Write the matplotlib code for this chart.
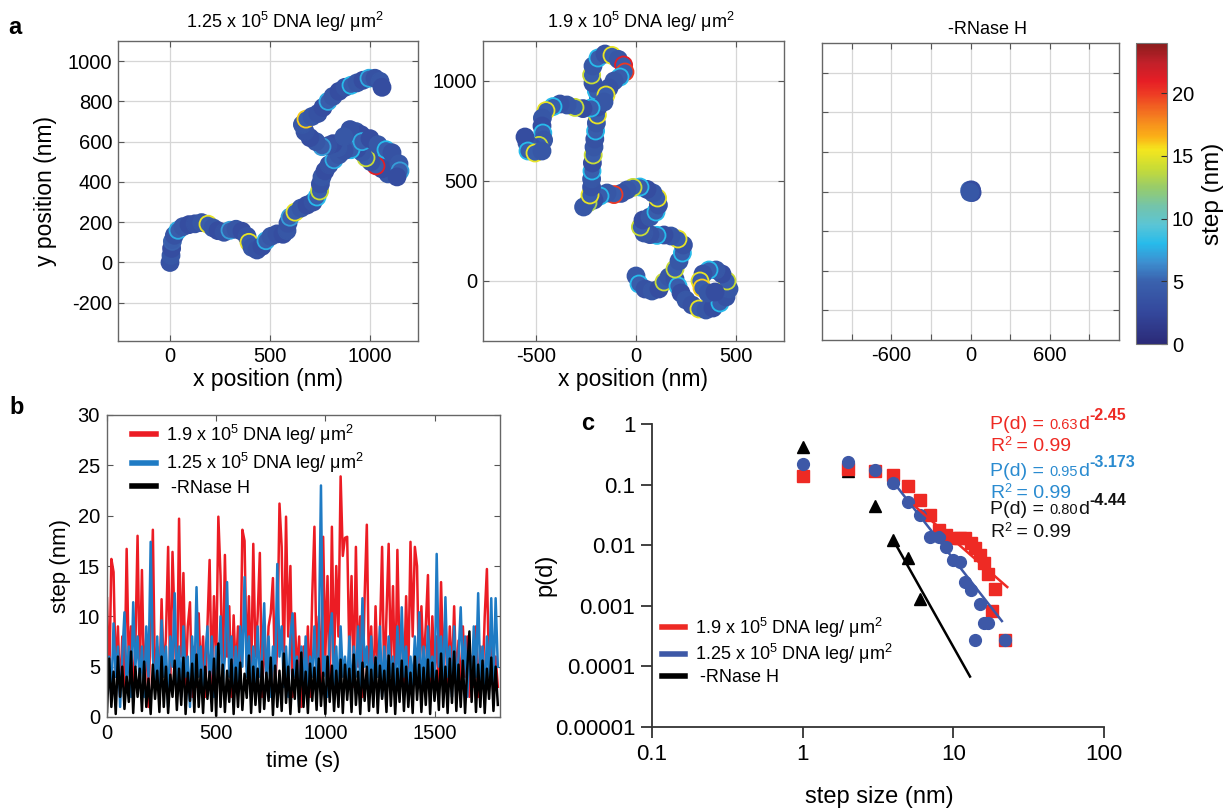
import numpy as np
import matplotlib
matplotlib.use("Agg")
import matplotlib.pyplot as plt
from matplotlib.colors import LinearSegmentedColormap, Normalize
from matplotlib.cm import ScalarMappable
from matplotlib.lines import Line2D
from matplotlib.ticker import NullLocator

plt.rcParams["font.family"] = ["Liberation Sans", "DejaVu Sans"]
plt.rcParams["mathtext.fontset"] = "custom"
plt.rcParams["mathtext.rm"] = "Liberation Sans"
plt.rcParams["mathtext.it"] = "Liberation Sans:italic"
plt.rcParams["mathtext.bf"] = "Liberation Sans:bold"
plt.rcParams["axes.unicode_minus"] = False

# ---- panel a: tracks (nm), colour = step size (nm) ----
a1_x = [0, 5, 8, 12, 22, 40, 65, 95, 125, 158,
        190, 215, 240, 270, 300, 330, 360, 385, 395, 410,
        435, 460, 480, 505, 535, 565, 585, 590, 600, 625,
        655, 685, 715, 735, 748, 752, 760, 775, 795, 820,
        845, 865, 885, 905, 930, 955, 970, 990, 1010, 1030,
        1055, 1085, 1110, 1125, 1120, 1090, 1060, 1030, 1005, 980,
        960, 935, 905, 870, 840, 815, 790, 760, 730, 700,
        675, 662, 680, 710, 740, 765, 790, 815, 845, 875,
        905, 935, 965, 995, 1025, 1050, 1060,
        900, 870, 960, 1000, 1040, 1080, 1110, 1145, 1150, 1135]
a1_y = [0, 35, 70, 105, 135, 160, 178, 188, 192, 198,
        190, 172, 158, 150, 160, 165, 155, 130, 100, 75,
        62, 80, 108, 130, 142, 140, 158, 195, 225, 250,
        270, 285, 300, 325, 355, 390, 425, 455, 485, 510,
        535, 565, 600, 630, 650, 635, 605, 580, 560, 535,
        520, 525, 505, 475, 440, 440, 465, 480, 500, 520,
        548, 565, 560, 555, 570, 590, 580, 575, 600, 620,
        650, 685, 712, 725, 740, 770, 800, 825, 850, 870,
        880, 892, 905, 915, 915, 900, 870,
        660, 625, 600, 615, 585, 560, 545, 490, 455, 425]
a1_step = [3.5, 4, 3, 5, 3.5, 7.5, 4, 3, 3.5, 4,
           15, 4, 3, 3.5, 7, 4, 3, 3.5, 15, 4,
           3.5, 3, 7.5, 4, 3.5, 3, 4, 3.5, 7, 15,
           4, 3, 3.5, 8, 14, 3.5, 4, 3, 3.5, 7.5,
           4, 3, 3.5, 8, 4, 3, 3.5, 7, 4, 3,
           3.5, 8, 4, 3.5, 7.5, 4, 3, 21, 3.5, 14,
           4, 3, 8, 3.5, 4, 3, 3.5, 7, 4, 3,
           3.5, 4, 16, 4, 3.5, 3, 7.5, 4, 3, 3.5,
           8, 4, 3, 7.5, 3.5, 4, 3,
           3.5, 4, 7.5, 3, 4, 8, 3.5, 4, 7, 3]

a2_x = [0, 15, 45, 80, 115, 140, 165, 195, 210, 225,
        250, 280, 315, 350, 385, 420, 450, 465, 455, 430,
        400, 365, 335, 320, 330, 360, 395, 195, 215, 232,
        237, 210, 175, 140, 105, 70, 40, 22, 35, 70,
        100, 112, 108, 85, 55, 20, -15, -45, -75, -110,
        -145, -180, -210, -240, -262, -230, -222, -222, -220, -218,
        -214, -210, -206, -202, -198, -193, -190, -188, -198, -215,
        -222, -215, -190, -155, -120, -88, -62, -55, -80, -110,
        -135, -150, -160, -225, -265, -305, -345, -380, -415, -450,
        -468, -470, -466, -462, -485, -520, -545, -555, -540, -505,
        -470]
a2_y = [25, -15, -40, -50, -40, -5, 20, 10, -25, -60,
        -95, -120, -140, -145, -135, -110, -80, -40, 0, 35,
        55, 55, 35, 0, -35, -60, -55, 60, 100, 140,
        180, 210, 225, 230, 228, 232, 240, 270, 305, 320,
        345, 380, 415, 440, 458, 470, 468, 455, 438, 432,
        440, 425, 405, 390, 370, 430, 470, 510, 550, 590,
        630, 670, 710, 750, 790, 830, 870, 910, 950, 990,
        1030, 1075, 1115, 1135, 1128, 1108, 1080, 1045, 1020, 1000,
        965, 930, 895, 865, 862, 868, 880, 885, 872, 852,
        815, 775, 740, 705, 678, 670, 690, 720, 650, 640,
        650]
a2_step = [4, 8, 3.5, 4, 3, 14, 4, 3.5, 8, 3,
           4, 3.5, 15, 4, 3, 8, 3.5, 4, 14, 3,
           4, 8, 3.5, 15, 16, 4, 3, 14, 4, 8,
           3.5, 15, 4, 3, 8, 3.5, 4, 14, 3, 4,
           8, 3.5, 15, 4, 3, 8, 14, 4, 3.5, 20,
           4, 8, 3, 13, 4, 15, 3.5, 4, 8, 3,
           14, 4, 3.5, 8, 4, 15, 3, 4, 8, 3.5,
           14, 4, 8, 3.5, 15, 4, 21, 20, 8, 4,
           3.5, 15, 4, 8, 3, 14, 4, 3.5, 8, 15,
           4, 3, 8, 4, 14, 3.5, 4, 3, 8, 15,
           4]

a3_x = [0, 12, -6, 8, -4]
a3_y = [0, -8, 10, 12, -6]
a3_step = [4, 3, 5, 3, 4]

title_hi = "1.25 x 10$^{5}$ DNA leg/ μm$^{2}$"
title_lo = "1.9 x 10$^{5}$ DNA leg/ μm$^{2}$"
title_ctrl = "-RNase H"

# colour scale (step, nm)
cmap_nodes = [0, 2.5, 5, 6.5, 8, 9.5, 11, 12.5, 14, 15.5, 16.5, 18, 20, 21, 22.5, 24]
cmap_hex = ["#2b2a78", "#34489c", "#3a62ae", "#3d8fd0", "#27bbeb", "#5bc5d5",
            "#74c4aa", "#98cc6a", "#c8dc36", "#f4e61e", "#fbb217", "#f5821f",
            "#ed3a24", "#e61e25", "#c0202a", "#8a1c1c"]
cbar_ticks = [0, 5, 10, 15, 20]

# ---- panel b: step vs time, sampled every 10 s ----
sample_dt = 10
red_step = [11.8, 3, 15.7, 14.4, 4, 9, 2, 8, 3, 16.7,
            5, 9, 2, 7, 18.0, 4, 14.6, 3, 8, 1,
            10, 18.6, 3, 7, 2, 11.7, 4, 8, 16.9, 3,
            16.4, 9, 2, 19.7, 6, 14.3, 3, 9, 11.4, 2,
            7, 3, 10.3, 4, 8, 2, 9, 15.6, 3, 12,
            5, 19.9, 14, 3, 16.1, 6, 11, 2, 10.1, 4,
            9, 3, 18.6, 17.5, 5, 12, 3, 17.2, 6, 10,
            16.3, 2, 8, 4, 9, 10.3, 13.8, 3, 7, 21.2,
            16.9, 5, 19.9, 8, 15, 2, 10.3, 4, 8, 1,
            7, 3, 9, 2, 12, 18.9, 5, 10, 3, 17.9,
            6, 14, 2, 18.9, 5, 15, 8, 23.9, 16, 17.8,
            17.9, 6, 14, 3, 16.9, 5, 10, 2, 12, 19.1,
            4, 9, 2, 11, 4, 8, 16.9, 3, 10, 17.2,
            5, 13, 2, 16.6, 6, 9, 3, 12, 4, 17.4,
            8, 16.9, 15, 3, 11, 5, 9, 14.1, 2, 10,
            4, 8, 3, 13.4, 5, 10, 2, 9, 4, 11,
            3, 7.6, 2, 9, 4, 8, 2, 6, 3, 9,
            2, 7, 3, 10, 14.7, 4, 8, 2, 6, 3]
blue_step = [3, 6, 2, 9.3, 4, 7, 1, 6, 10.4, 3,
             7, 2, 11.4, 5, 8, 3, 7, 2, 9, 4,
             17.4, 6, 3, 8, 2, 9.6, 4, 7, 1, 8,
             5, 12.3, 3, 7, 2, 9, 4, 6, 1, 8,
             3, 12.9, 4, 7, 2, 6, 9, 3, 8, 2,
             7, 4, 10, 3, 6, 13.4, 4, 8, 2, 7,
             3, 9, 5, 13.9, 4, 8, 2, 7, 3, 9,
             4, 6, 11.3, 3, 8, 2, 7, 4, 15.2, 6,
             9, 3, 7, 2, 8, 10.3, 4, 6, 1, 7,
             3, 8, 2, 6, 4, 9, 3, 7, 23.0, 4,
             6, 2, 8, 10.3, 3, 7, 2, 9, 4, 6,
             3, 8, 2, 7, 4, 9, 3, 11.8, 5, 7,
             2, 8, 3, 6, 4, 9, 2, 7, 3, 8,
             4, 6, 2, 9, 3, 10.9, 4, 7, 2, 6,
             3, 8, 4, 10.4, 2, 7, 3, 9, 4, 6,
             2, 16.2, 5, 8, 3, 11.9, 4, 7, 2, 9,
             3, 6, 10.9, 4, 8, 2, 7, 3, 9, 4,
             12.3, 3, 7, 2, 8, 4, 11.8, 3, 11.8, 5]
black_step = [0.5, 5.8, 1, 4.5, 0.3, 6, 2, 5, 0.8, 4,
              1.5, 6.5, 0.4, 5, 2, 4.8, 0.6, 5.5, 1, 3.8,
              0.3, 5.2, 1.8, 4.6, 0.5, 6, 1, 5, 0.4, 4.2,
              2, 5.6, 0.7, 4.8, 1.2, 5.9, 0.3, 4.4, 1.6, 5.3,
              0.5, 6.2, 1, 4.7, 0.4, 5, 1.8, 4.5, 0.6, 5.8,
              0.1, 7.3, 1, 5.2, 0.5, 4.6, 1.5, 5.7, 0.3, 4.9,
              1, 5.4, 0.7, 4.3, 1.9, 6.1, 0.4, 5, 1.2, 4.8,
              0.5, 5.5, 0.8, 4.4, 1.6, 5.9, 0.2, 5.1, 1, 4.6,
              0.6, 6.3, 1.4, 5, 0.3, 4.7, 1.8, 5.6, 0.5, 6.4,
              1, 4.5, 0.4, 5.3, 1.6, 4.9, 0.7, 5.8, 1.1, 4.4,
              0.3, 6, 1.5, 5.1, 0.6, 4.6, 1, 5.7, 0.4, 5.2,
              1.7, 4.8, 0.5, 6.2, 1.2, 4.5, 0.3, 5.4, 1.6, 5,
              0.6, 4.7, 1, 5.9, 0.4, 5.1, 1.8, 4.6, 0.5, 6.1,
              1.1, 5.3, 0.3, 4.8, 1.5, 5.6, 0.6, 5, 1, 4.4,
              0.4, 6, 1.7, 5.2, 0.5, 4.9, 1.2, 5.7, 0.3, 5.4,
              1.6, 4.6, 0.7, 6.3, 1, 5, 0.4, 5.8, 1.4, 6.5,
              0.6, 5.2, 1, 5.6, 0.4, 4.8, 8.5, 1.5, 6, 0.5,
              5.2, 1, 5.6, 0.4, 4.8, 1.8, 5.9, 0.6, 5, 1.2]
legend_labels = [title_lo, title_hi, " -RNase H"]

# ---- panel c: step size distributions ----
red_d = [1, 2, 3, 4, 5, 6, 7, 8, 9, 10, 11, 12, 13, 14, 15, 16, 17, 18, 19, 22]
red_p = [0.14, 0.18, 0.17, 0.144, 0.094, 0.055, 0.032, 0.018, 0.015, 0.013,
         0.013, 0.013, 0.011, 0.009, 0.007, 0.005, 0.0033, 0.00082, 0.0019, 0.00027]
blue_d = [1, 2, 3, 4, 5, 6, 7, 8, 9, 10, 11, 12, 13, 14, 15, 16, 17, 22]
blue_p = [0.22, 0.24, 0.175, 0.105, 0.052, 0.031, 0.0137, 0.0137, 0.0094, 0.0056,
          0.0053, 0.0025, 0.0018, 0.00027, 0.00106, 0.00052, 0.00052, 0.00027]
black_d = [1, 2, 3, 4, 5, 6]
black_p = [0.42, 0.17, 0.044, 0.012, 0.0062, 0.0013]
red_fit_d, red_fit_p = [5.5, 22.8], [0.045, 0.00204]
blue_fit_d, blue_fit_p = [4.0, 21.0], [0.11, 0.00056]
black_fit_d, black_fit_p = [4.06, 12.9], [0.0113, 0.000068]
fit_prefactor = ["0.63", "0.95", "0.80"]
fit_exponent = ["-2.45", "-3.173", "-4.44"]
fit_r2 = ["0.99", "0.99", "0.99"]
fit_colors = ["#ee2a24", "#2a8bd0", "#111111"]
c_xticks = [0.1, 1, 10, 100]
c_xticklabels = ["0.1", "1", "10", "100"]
c_yticks = [1e-5, 1e-4, 1e-3, 1e-2, 1e-1, 1]
c_yticklabels = ["0.00001", "0.0001", "0.001", "0.01", "0.1", "1"]

RED, BLUE, BLACK = "#ec1c24", "#1f7bc4", "#000000"
C_RED, C_BLUE = "#ee2a24", "#3d58a7"

W, H = 1224, 810


def box(left, top, right, bottom):
    return [left / W, 1 - bottom / H, (right - left) / W, (bottom - top) / H]


def fpos(x, y):
    return x / W, 1 - y / H


step_cmap = LinearSegmentedColormap.from_list(
    "step", list(zip(np.array(cmap_nodes) / 24.0, cmap_hex)))
step_norm = Normalize(0, 24)


def style_track_axes(ax, xlim, ylim, xticks, yticks):
    ax.set_xlim(xlim)
    ax.set_ylim(ylim)
    ax.set_xticks(xticks)
    ax.set_yticks(yticks)
    ax.grid(True, color="#d6d6d6", lw=0.9)
    ax.set_axisbelow(True)
    ax.tick_params(direction="in", length=4, width=0.8, top=True, right=True,
                   labelsize=14.5, color="#555555", pad=4)
    for s in ax.spines.values():
        s.set_color("#666666")
        s.set_linewidth(1.0)


def draw_track(ax, xs, ys, steps):
    steps = np.asarray(steps, float)
    edge = step_cmap(step_norm(steps))
    face = step_cmap(step_norm(np.minimum(steps, 4.5)))
    ax.scatter(xs, ys, s=150, facecolors=face, edgecolors=edge,
               linewidths=1.3, zorder=3)


def rich_line(fig, x, y, pieces, color):
    # pieces: (text, size, weight, raise in px); laid out left to right
    renderer = fig.canvas.get_renderer()
    for s, size, weight, dy in pieces:
        t = fig.text(*fpos(x, y - dy), s, fontsize=size, fontweight=weight,
                     color=color, va="baseline", ha="left")
        x = t.get_window_extent(renderer).x1


fig = plt.figure(figsize=(W / 100, H / 100), dpi=100)

# panel a
ax1 = fig.add_axes(box(118, 41, 418, 341))
draw_track(ax1, a1_x, a1_y, a1_step)
style_track_axes(ax1, (-260, 1240), (-390, 1100), [0, 500, 1000],
                 [-200, 0, 200, 400, 600, 800, 1000])
ax1.set_xlabel("x position (nm)", fontsize=16.5, labelpad=2)
ax1.set_ylabel("y position (nm)", fontsize=16.5, labelpad=8)

ax2 = fig.add_axes(box(483, 41, 784, 341))
draw_track(ax2, a2_x, a2_y, a2_step)
style_track_axes(ax2, (-765, 740), (-300, 1200), [-500, 0, 500], [0, 500, 1000])
ax2.set_xlabel("x position (nm)", fontsize=16.5, labelpad=2)

ax3 = fig.add_axes(box(822, 43, 1119, 340))
draw_track(ax3, a3_x, a3_y, a3_step)
style_track_axes(ax3, (-1125, 1125), (-1125, 1125),
                 [-900, -600, -300, 0, 300, 600, 900],
                 [-900, -600, -300, 0, 300, 600, 900])
ax3.set_xticklabels(["", "-600", "", "0", "", "600", ""])
ax3.set_yticklabels([])

cax = fig.add_axes(box(1136, 43, 1167, 344))
cb = fig.colorbar(ScalarMappable(norm=step_norm, cmap=step_cmap), cax=cax)
cb.set_ticks(cbar_ticks)
cb.ax.tick_params(direction="in", length=4, width=0.8, labelsize=14.5,
                  color="#333333")
cb.outline.set_edgecolor("#777777")
cb.outline.set_linewidth(0.8)
cb.set_label("step (nm)", fontsize=17.5, labelpad=6)

fig.text(*fpos(285, 22), title_hi, ha="center", va="center", fontsize=13)
fig.text(*fpos(641, 22), title_lo, ha="center", va="center", fontsize=13)
fig.text(*fpos(987, 29), title_ctrl, ha="center", va="center", fontsize=13)

# panel b
axb = fig.add_axes(box(107, 415, 500, 717))
for vals, col in [(red_step, RED), (blue_step, BLUE), (black_step, BLACK)]:
    t = np.arange(len(vals)) * sample_dt
    axb.plot(t, vals, color=col, lw=1.8)
axb.set_xlim(0, 1800)
axb.set_ylim(0, 30)
axb.set_xticks([0, 500, 1000, 1500])
axb.set_yticks([0, 5, 10, 15, 20, 25, 30])
axb.tick_params(direction="in", length=4, width=0.8, top=True, right=True,
                labelsize=14.5, color="#555555", pad=5)
for s in axb.spines.values():
    s.set_color("#666666")
    s.set_linewidth(1.0)
axb.set_xlabel("time (s)", fontsize=16, labelpad=6)
axb.set_ylabel("step (nm)", fontsize=16, labelpad=5)
handles_b = [Line2D([], [], color=c, lw=4) for c in (RED, BLUE, BLACK)]
axb.legend(handles_b, legend_labels, loc="upper left", bbox_to_anchor=(0.064, 0.975),
           frameon=False, fontsize=13, handlelength=1.3, handletextpad=0.55,
           labelspacing=0.25, borderpad=0, borderaxespad=0)

# panel c
axc = fig.add_axes(box(652, 424, 1104, 727))
axc.set_xscale("log")
axc.set_yscale("log")
axc.plot(black_d, black_p, "^", color=BLACK, ms=8, zorder=3)
axc.plot(red_d, red_p, "s", color=C_RED, ms=8, zorder=3)
axc.plot(blue_d, blue_p, "o", color=C_BLUE, ms=8.5, zorder=4)
axc.plot(red_fit_d, red_fit_p, color=C_RED, lw=1.8, zorder=5)
axc.plot(blue_fit_d, blue_fit_p, color=C_BLUE, lw=1.8, zorder=5)
axc.plot(black_fit_d, black_fit_p, color=BLACK, lw=1.8, zorder=5)
axc.set_xlim(0.1, 100)
axc.set_ylim(1e-5, 1)
axc.xaxis.set_minor_locator(NullLocator())
axc.yaxis.set_minor_locator(NullLocator())
axc.set_xticks(c_xticks)
axc.set_xticklabels(c_xticklabels)
axc.set_yticks(c_yticks)
axc.set_yticklabels(c_yticklabels)
axc.spines["top"].set_visible(False)
axc.spines["right"].set_visible(False)
for s in ("left", "bottom"):
    axc.spines[s].set_color("#333333")
    axc.spines[s].set_linewidth(1.3)
axc.tick_params(direction="out", length=8, width=1.3, labelsize=16,
                color="#333333", pad=4)
handles_c = [Line2D([], [], color=c, lw=4) for c in (C_RED, C_BLUE, BLACK)]
axc.legend(handles_c, legend_labels, loc="upper left", bbox_to_anchor=(0.022, 0.368),
           frameon=False, fontsize=13, handlelength=1.3, handletextpad=0.55,
           labelspacing=0.15, borderpad=0, borderaxespad=0)
fig.text(*fpos(879, 797), "step size (nm)", ha="center", va="center", fontsize=17)
fig.text(*fpos(545, 575), "p(d)", ha="center", va="center", rotation=90, fontsize=17)

eq_baselines = [(429, 451), (476, 498), (514, 537)]
for pre, ex, r2, col, (b1, b2) in zip(fit_prefactor, fit_exponent, fit_r2,
                                      fit_colors, eq_baselines):
    rich_line(fig, 990, b1, [("P(d) = ", 14, "normal", 0), (pre, 10.5, "normal", 0),
                             ("d", 14, "normal", 0), (ex, 11.5, "bold", 9)], col)
    rich_line(fig, 990, b2, [("R", 14, "normal", 0), ("2", 9, "normal", 6),
                             (" = " + r2, 14, "normal", 0)], col)

fig.text(*fpos(15, 28), "a", fontsize=17, fontweight="bold", ha="center", va="center")
fig.text(*fpos(17, 408), "b", fontsize=17, fontweight="bold", ha="center", va="center")
fig.text(*fpos(588, 424), "c", fontsize=17, fontweight="bold", ha="center", va="center")

fig.savefig("out.png", dpi=100)
